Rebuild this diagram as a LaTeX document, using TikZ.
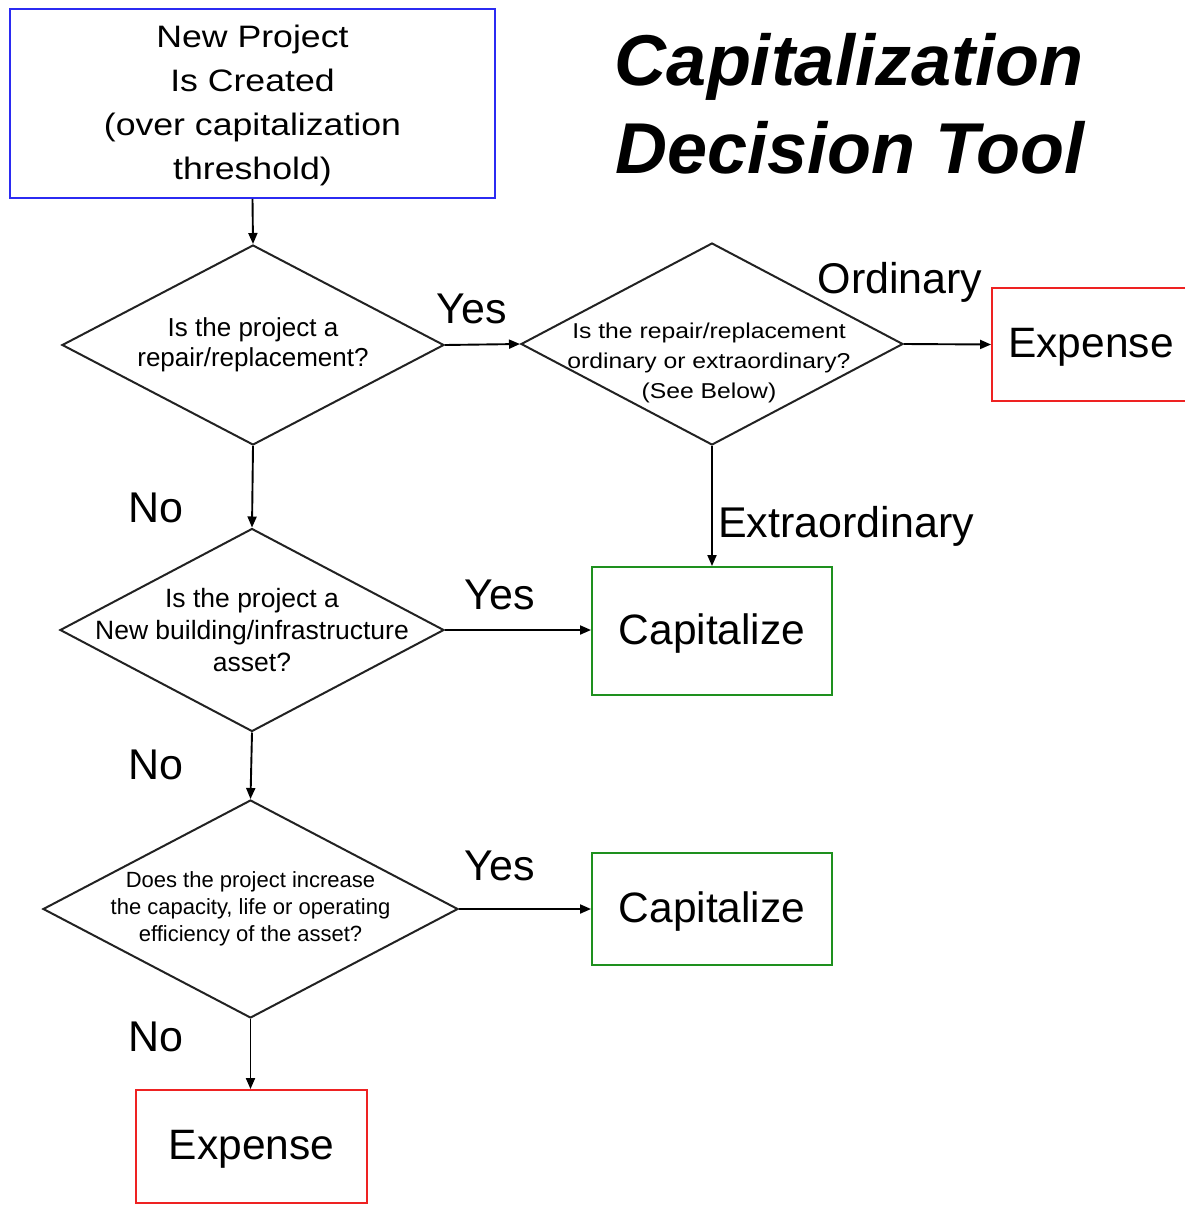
\documentclass[tikz,border=0pt]{standalone}
\usepackage{fontspec}
\setmainfont{Liberation Sans}
\newfontfamily\widefont[FakeStretch=1.15]{Liberation Sans}
\usetikzlibrary{shapes.geometric,arrows.meta}
\definecolor{bblue}{HTML}{2B2BF2}
\definecolor{rred}{HTML}{EE2222}
\definecolor{ggreen}{HTML}{1E901E}
\definecolor{dline}{HTML}{222222}
\begin{document}
\begin{tikzpicture}[x=1pt,y=-1pt,
  box/.style={draw, line width=1.9pt, inner sep=0pt, align=center, text depth=3pt, font=\fontsize{42.5}{48}\selectfont},
  dia/.style={draw=dline, diamond, line width=2pt, inner sep=0pt},
  qtext/.style={align=center, inner sep=0pt},
  arr/.style={-{Triangle[length=11pt,width=9pt]}, line width=1.9pt, draw=black},
  lbl/.style={font=\fontsize{43}{48}\selectfont, inner sep=0pt, anchor=base},
  ttl/.style={font=\fontsize{72}{88}\selectfont\bfseries\itshape, inner sep=0pt, anchor=base},
]
\useasboundingbox (0,0) rectangle (1185,1205);

% title
\node[ttl] (title1) at (849,85) {Capitalization};
\node[ttl] (title2) at (850,173) {Decision Tool};

% start box
\node[box, draw=bblue, minimum width=485pt, minimum height=189pt,
      font=\widefont\fontsize{31}{44}\selectfont] (start) at (252.5,103.5)
  {New Project\\Is Created\\(over capitalization\\threshold)};

% decisions
\node[dia, minimum width=382pt, minimum height=200pt] (d1) at (253,345) {};
\node[qtext, font=\fontsize{26}{30}\selectfont] (d1t) at (d1.center)
  {Is the project a\\repair/replacement?};

\node[dia, minimum width=382pt, minimum height=202pt] (d2) at (712,344) {};
\node[qtext, font=\widefont\fontsize{21.5}{30}\selectfont] (d2t) at (709,363)
  {Is the repair/replacement\\ordinary or extraordinary?\\(See Below)};

\node[dia, minimum width=384pt, minimum height=203pt] (d3) at (252,630) {};
\node[qtext, font=\fontsize{26.5}{32}\selectfont] (d3t) at (d3.center)
  {Is the project a\\New building/infrastructure\\asset?};

\node[dia, minimum width=415pt, minimum height=218pt] (d4) at (250.5,909) {};
\node[qtext, font=\fontsize{22}{27}\selectfont] (d4t) at (d4.center)
  {Does the project increase\\the capacity, life or operating\\efficiency of the asset?};

% outcomes
\node[box, draw=rred, minimum width=198pt, minimum height=113pt] (e1) at (1091,344.5) {Expense};
\node[box, draw=ggreen, minimum width=240pt, minimum height=128pt] (c1) at (712,631) {Capitalize};
\node[box, draw=ggreen, minimum width=240pt, minimum height=112pt] (c2) at (712,909) {Capitalize};
\node[box, draw=rred, minimum width=231pt, minimum height=113pt] (e2) at (251.5,1146.5) {Expense};

% connectors
\draw[arr] (start.south) -- (d1.north);
\draw[arr] (d1.east) -- (d2.west);
\draw[arr] (d2.east) -- (e1.west);
\draw[arr] (d2.south) -- (c1.north);
\draw[arr] (d1.south) -- (d3.north);
\draw[arr] (d3.east) -- (d3.east -| c1.west);
\draw[arr] (d3.south) -- (d4.north);
\draw[arr] (d4.east) -- (c2.west);
\draw[arr] (d4.south) -- (d4.south |- e2.north);

% labels
\node[lbl] (yes1) at (472,323) {Yes};
\node[lbl] (ord) at (900,293) {Ordinary};
\node[lbl, anchor=base west] (extra) at (718,537) {Extraordinary};
\node[lbl] (no1) at (156,522) {No};
\node[lbl] (yes2) at (500,609) {Yes};
\node[lbl] (no2) at (156,779) {No};
\node[lbl] (yes3) at (500,880) {Yes};
\node[lbl] (no3) at (156,1051) {No};
\end{tikzpicture}
\end{document}
